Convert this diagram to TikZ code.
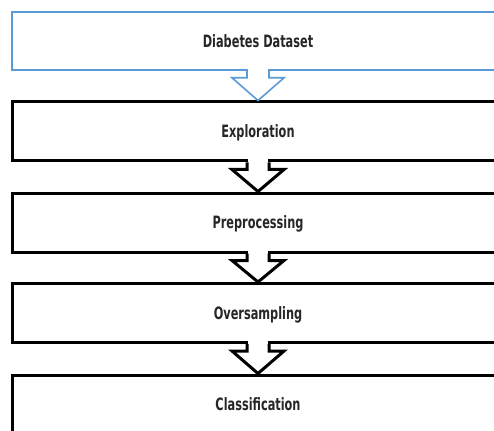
\documentclass[tikz,border=0pt]{standalone}
\usepackage{fontspec}
\setmainfont{DejaVu Sans Condensed}[FakeStretch=0.74]
\usetikzlibrary{calc}
\definecolor{stageblue}{RGB}{91,155,213}
\newcommand{\stagearrow}[3]{%
  \fill[white] ($(#1.south)+(-10,-3)$) rectangle ($(#1.south)+(10,6)$);
  \draw[#3] ($(#1.south)+(-11,0)$)--++(0,7)--++(-15,0)--(#2.north)--($(#1.south)+(26,7)$)--++(-15,0)--++(0,-7);
}

\begin{document}
\begin{tikzpicture}[x=1pt,y=-1pt,line join=miter,
    stage/.style={draw,line width=3pt,minimum width=492pt,minimum height=59pt,text depth=0pt,text=black!85,font=\bfseries\fontsize{17}{19}\selectfont},
    startstage/.style={stage,draw=stageblue,line width=1.6pt,minimum height=58pt}]
            \useasboundingbox (0,0) rectangle (494,430);
            \node (data) at (258,41)[startstage]{Diabetes Dataset};
            \node (explore) at (258,131.5)[stage]{Exploration};
            \node (prep) at (258,222.5)[stage]{Preprocessing};
            \node (over) at (258,313)[stage]{Oversampling};
            \node (classify) at (258,404.5)[stage]{Classification};
            \stagearrow{data}{explore}{stageblue,line width=1.6pt}
            \stagearrow{explore}{prep}{line width=3pt}
            \stagearrow{prep}{over}{line width=3pt}
            \stagearrow{over}{classify}{line width=3pt}
        \end{tikzpicture}
\end{document}
